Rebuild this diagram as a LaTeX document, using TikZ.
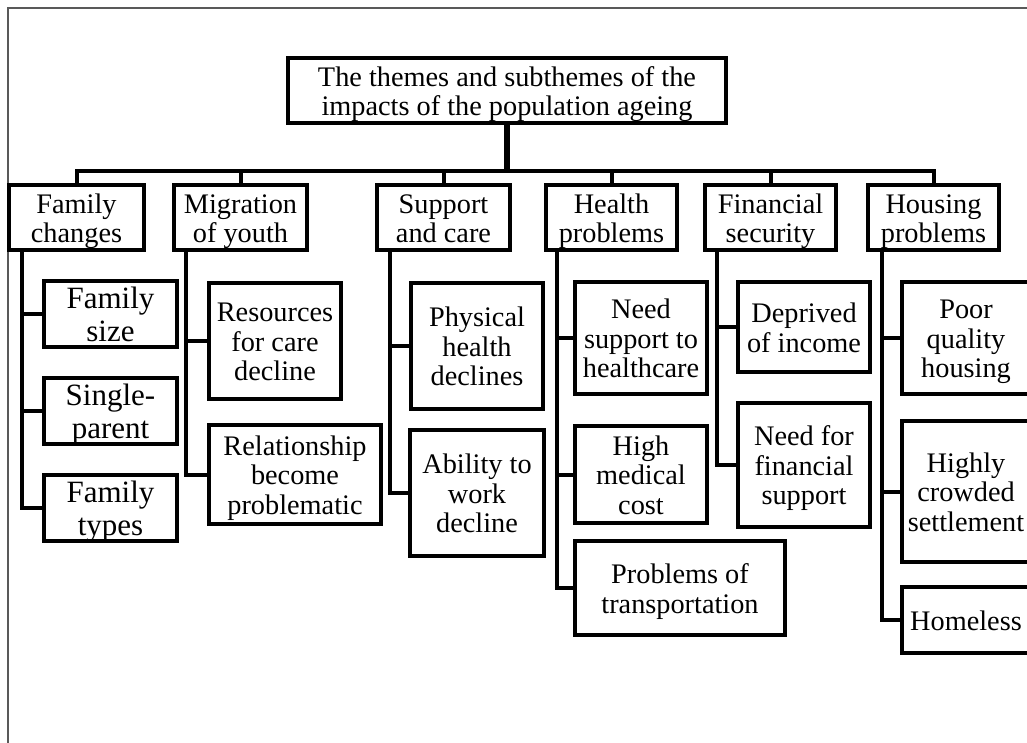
\documentclass[tikz,border=0pt]{standalone}
\usepackage{fontspec}
\setmainfont{Liberation Serif}
\tikzset{
  box/.style={draw, line width=4pt, fill=white, inner sep=0pt,
    font=\fontsize{28.3}{29.5}\selectfont},
  bigbox/.style={box, font=\fontsize{31}{33}\selectfont},
  conn/.style={line width=4pt},
  trunk/.style={line width=6pt},
  frame/.style={line width=1.2pt, draw=black!65}
}
\newcommand\bx[7][box]{\node[#1, minimum width={#5-#3-4}, minimum height={#6-#4-4}] (#2) at ({(#3+#5)/2},{(#4+#6)/2}) {\raisebox{-4.5pt}[\height][\depth]{\begin{tabular}{@{}c@{}}#7\end{tabular}}};}
\begin{document}
\begin{tikzpicture}[x=1pt,y=-1pt]
\useasboundingbox (0,0) rectangle (1027,743);
\clip (0,0) rectangle (1027,743);
\fill[white] (0,0) rectangle (1027,743);
\draw[frame] (8,743) -- (8,8) -- (1027,8);
% root and themes
\bx{root}{286}{56}{728}{125}{The themes and subthemes of the\\impacts of the population ageing}
\bx{fam}{7}{183}{146}{252}{Family\\changes}
\bx{mig}{172}{183}{309}{252}{Migration\\of youth}
\bx{sup}{375}{183}{512}{252}{Support\\and care}
\bx{hea}{544}{183}{679}{252}{Health\\problems}
\bx{fin}{703}{183}{838}{252}{Financial\\security}
\bx{hou}{866}{183}{1001}{252}{Housing\\problems}
% subthemes
\bx[bigbox]{fsz}{42}{280}{179}{348}{Family\\size}
\bx[bigbox]{fsp}{42}{377}{179}{445}{Single-\\parent}
\bx[bigbox]{fty}{42}{473}{179}{542}{Family\\types}
\bx{res}{207}{281}{343}{401}{Resources\\for care\\decline}
\bx{rel}{207}{423}{383}{526}{Relationship\\become\\problematic}
\bx{phy}{409}{281}{545}{411}{Physical\\health\\declines}
\bx{abi}{408}{428}{546}{558}{Ability to\\work\\decline}
\bx{nsh}{573}{280}{709}{396}{Need\\support to\\healthcare}
\bx{hmc}{573}{424}{709}{525}{High\\medical\\cost}
\bx{pot}{573}{539}{787}{637}{Problems of\\transportation}
\bx{dep}{736}{280}{872}{374}{Deprived\\of income}
\bx{nfs}{736}{401}{872}{529}{Need for\\financial\\support}
\bx{pqh}{900}{280}{1032}{396}{Poor\\quality\\housing}
\bx{hcs}{900}{419}{1032}{564}{Highly\\crowded\\settlement}
\bx{hom}{900}{585}{1032}{655}{Homeless}
% top connectors
\coordinate (b) at (500,171);
\draw[trunk] (root.south) -- (root.south |- b);
\draw[conn] (fam.north) |- (b) -| (hou.north);
\draw[conn] (mig.north |- b) -- (mig.north);
\draw[conn] (sup.north |- b) -- (sup.north);
\draw[conn] (hea.north |- b) -- (hea.north);
\draw[conn] (fin.north |- b) -- (fin.north);
% branches
\coordinate (fB) at (22,250);
\draw[conn] (fB) |- (fty.west);
\draw[conn] (fB |- fsz.west) -- (fsz.west);
\draw[conn] (fB |- fsp.west) -- (fsp.west);
\coordinate (mB) at (186,250);
\draw[conn] (mB) |- (rel.west);
\draw[conn] (mB |- res.west) -- (res.west);
\coordinate (sB) at (390,250);
\draw[conn] (sB) |- (abi.west);
\draw[conn] (sB |- phy.west) -- (phy.west);
\coordinate (hB) at (557,250);
\draw[conn] (hB) |- (pot.west);
\draw[conn] (hB |- nsh.west) -- (nsh.west);
\draw[conn] (hB |- hmc.west) -- (hmc.west);
\coordinate (iB) at (717,250);
\draw[conn] (iB) |- (nfs.west);
\draw[conn] (iB |- dep.west) -- (dep.west);
\coordinate (oB) at (882,250);
\draw[conn] (oB) |- (hom.west);
\draw[conn] (oB |- pqh.west) -- (pqh.west);
\draw[conn] (oB |- hcs.west) -- (hcs.west);
\end{tikzpicture}
\end{document}
